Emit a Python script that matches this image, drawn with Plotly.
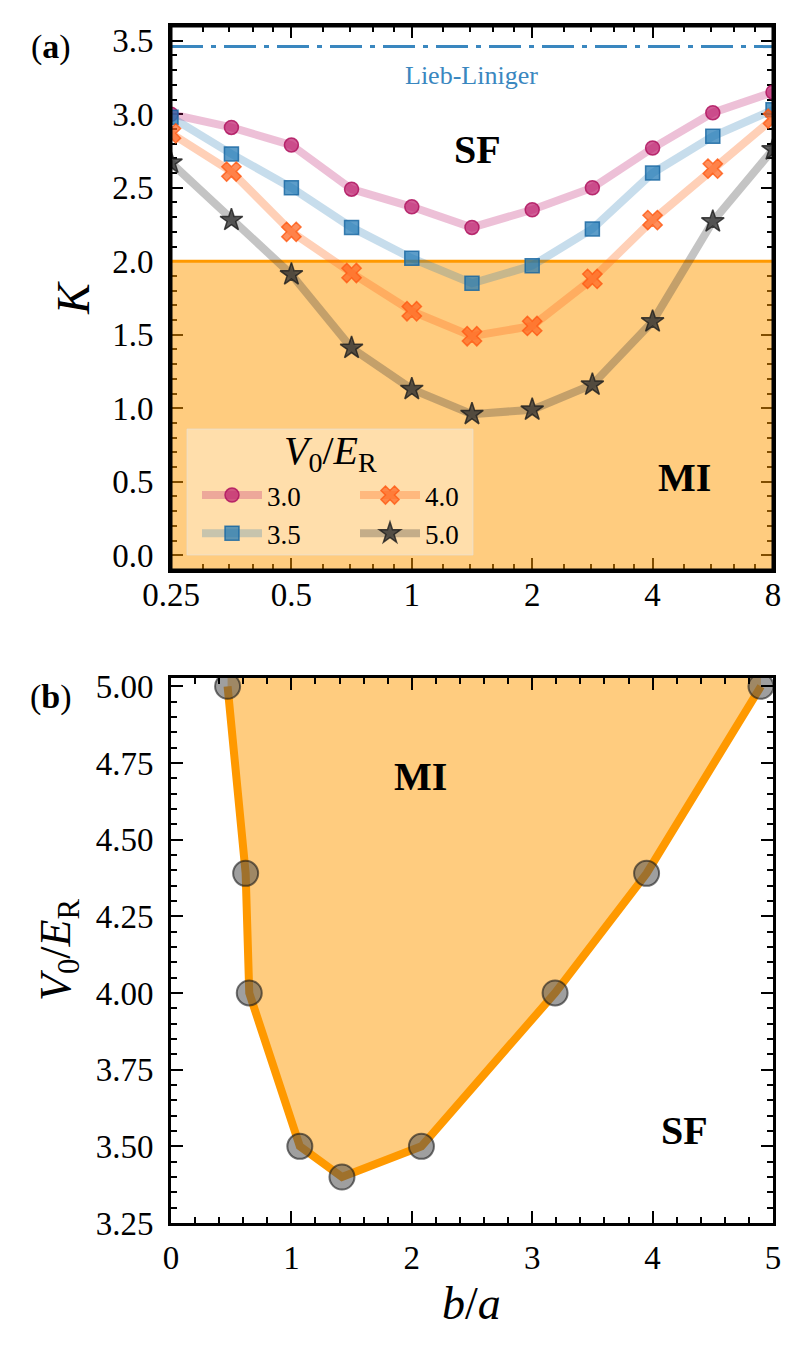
import math
import plotly.graph_objects as go

# ---------------- data ----------------
# panel (a): Luttinger parameter K vs b/a for several lattice depths
b_over_a_a = [0.25, 0.354, 0.5, 0.707, 1.0, 1.414, 2.0, 2.828, 4.0, 5.657, 8.0]
K_V30 = [3.00, 2.91, 2.79, 2.49, 2.37, 2.23, 2.35, 2.50, 2.77, 3.01, 3.15]
K_V35 = [2.98, 2.73, 2.50, 2.23, 2.02, 1.85, 1.97, 2.22, 2.60, 2.85, 3.03]
K_V40 = [2.87, 2.61, 2.20, 1.92, 1.66, 1.49, 1.56, 1.88, 2.28, 2.63, 2.97]
K_V50 = [2.67, 2.28, 1.91, 1.41, 1.13, 0.96, 0.99, 1.16, 1.59, 2.27, 2.76]
series_labels = ["3.0", "3.5", "4.0", "5.0"]
K_critical = 2.0
K_lieb_liniger = 3.46
xtick_vals_a = [0.25, 0.5, 1, 2, 4, 8]
xtick_text_a = ["0.25", "0.5", "1", "2", "4", "8"]

# panel (b): phase boundary
b_over_a_b = [0.47, 0.62, 0.65, 1.07, 1.42, 2.08, 3.19, 3.95, 4.90]
V0_boundary = [5.00, 4.39, 4.00, 3.50, 3.40, 3.50, 4.00, 4.39, 5.00]

# ---------------- style ----------------
# page body has an 8px margin, so the figure is made 16px smaller and
# all pixel positions are measured from the window corner
OFF = 8
W, H = 809 - 2 * OFF, 1351 - 2 * OFF
SERIF = "Liberation Serif"
YA_RANGE = [-0.1, 3.6]
XA_RANGE = [math.log10(0.25), math.log10(8)]
YB_RANGE = [3.25, 5.027]
XB_RANGE = [0, 5]


def px(x):
    return (x - OFF) / W


def py(y):
    return 1 - (y - OFF) / H


styles = [
    dict(symbol="circle", size=14, color="rgba(190,30,110,0.72)", edge="rgba(175,20,95,0.85)",
         line="rgba(190,30,110,0.28)"),
    dict(symbol="square", size=14, color="rgba(31,119,180,0.72)", edge="rgba(20,100,160,0.8)",
         line="rgba(31,119,180,0.25)"),
    dict(symbol="x", size=17, color="rgba(255,100,30,0.72)", edge="rgba(255,90,20,0.8)",
         line="rgba(255,110,30,0.32)"),
    dict(symbol="star", size=17, color="rgba(50,50,50,0.78)", edge="rgba(30,30,30,0.8)",
         line="rgba(60,60,60,0.3)"),
]
legend_of = ["legend", "legend", "legend2", "legend2"]

fig = go.Figure()

# MI region fill in (a)
xa_lo, xa_hi = b_over_a_a[0], b_over_a_a[-1]
fig.add_trace(go.Scatter(
    x=[xa_lo, xa_hi, xa_hi, xa_lo], y=[YA_RANGE[0], YA_RANGE[0], K_critical, K_critical],
    mode="none", fill="toself", fillcolor="rgba(255,153,0,0.5)",
    showlegend=False, hoverinfo="skip", xaxis="x", yaxis="y"))
fig.add_trace(go.Scatter(
    x=[xa_lo, xa_hi], y=[K_critical, K_critical], mode="lines",
    line=dict(color="#ff9900", width=3), showlegend=False, hoverinfo="skip",
    xaxis="x", yaxis="y"))
fig.add_trace(go.Scatter(
    x=[xa_lo, xa_hi], y=[K_lieb_liniger, K_lieb_liniger], mode="lines",
    line=dict(color="#3a87bf", width=3, dash="32px,8px,5px,8px"), showlegend=False,
    hoverinfo="skip", xaxis="x", yaxis="y"))

for lab, K, st, lg in zip(series_labels, [K_V30, K_V35, K_V40, K_V50], styles, legend_of):
    fig.add_trace(go.Scatter(
        x=b_over_a_a, y=K, name=lab, mode="lines+markers",
        line=dict(color=st["line"], width=8),
        marker=dict(symbol=st["symbol"], size=st["size"], color=st["color"],
                    line=dict(color=st["edge"], width=1.5)),
        legend=lg, xaxis="x", yaxis="y"))

# panel (b)
fig.add_trace(go.Scatter(
    x=b_over_a_b + [b_over_a_b[-1], b_over_a_b[0]],
    y=V0_boundary + [YB_RANGE[1], YB_RANGE[1]],
    mode="none", fill="toself", fillcolor="rgba(255,153,0,0.5)",
    showlegend=False, hoverinfo="skip", xaxis="x2", yaxis="y2"))
fig.add_trace(go.Scatter(
    x=b_over_a_b, y=V0_boundary, mode="lines+markers",
    line=dict(color="#ff9900", width=8),
    marker=dict(symbol="circle", size=25, color="rgba(80,80,80,0.55)",
                line=dict(color="rgba(25,25,25,0.6)", width=2)),
    showlegend=False, xaxis="x2", yaxis="y2"))

tickfont = dict(family=SERIF, size=33, color="black")
common = dict(ticks="inside", ticklen=12, tickwidth=2, tickcolor="black",
              showline=True, linecolor="black", linewidth=3, mirror="allticks",
              showgrid=False, zeroline=False, tickfont=tickfont, automargin=False)
minor_common = dict(ticks="inside", ticklen=6, tickwidth=1.5, tickcolor="black", showgrid=False)

octaves = [0.25, 0.5, 1, 2, 4]
minor_a = [o * f for o in octaves for f in (1.2, 1.4, 1.6, 1.8)]

legend_font = dict(family=SERIF, size=27, color="black")
fig.update_layout(
    width=W, height=H, margin=dict(l=0, r=0, t=0, b=0, autoexpand=False),
    paper_bgcolor="white", plot_bgcolor="white",
    font=dict(family=SERIF, color="black"),
    xaxis=dict(domain=[px(171), px(773)], anchor="y", type="log", range=XA_RANGE,
               tickvals=xtick_vals_a, ticktext=xtick_text_a, layer="below traces",
               ticklabelstandoff=-7,
               minor=dict(tickvals=minor_a, **minor_common), **common),
    yaxis=dict(domain=[py(570), py(26)], anchor="x", range=YA_RANGE, dtick=0.5,
               tick0=0, tickformat=".1f", layer="below traces", ticklabelstandoff=8,
               minor=dict(dtick=0.1, tick0=0, **minor_common), **common),
    xaxis2=dict(domain=[px(171), px(773)], anchor="y2", range=XB_RANGE, dtick=1, tick0=0,
                ticklabelstandoff=3,
                minor=dict(dtick=0.2, tick0=0, **minor_common), **common),
    yaxis2=dict(domain=[py(1223), py(678)], anchor="x2", range=YB_RANGE, dtick=0.25,
                tick0=3.25, tickformat=".2f", ticklabelstandoff=8,
                minor=dict(dtick=0.05, tick0=3.25, **minor_common), **common),
    legend=dict(x=px(197), y=py(471), xanchor="left", yanchor="top",
                bgcolor="rgba(0,0,0,0)", font=legend_font,
                itemwidth=60, tracegroupgap=0),
    legend2=dict(x=px(355), y=py(471), xanchor="left", yanchor="top",
                 bgcolor="rgba(0,0,0,0)", font=legend_font,
                 itemwidth=60, tracegroupgap=0),
)

shapes = [
    dict(type="rect", xref="paper", yref="paper", x0=px(187), x1=px(473), y0=py(555), y1=py(429),
         fillcolor="rgba(255,255,255,0.35)", line=dict(color="rgba(225,225,225,0.6)", width=1),
         layer="above"),
    dict(type="rect", xref="x domain", yref="y domain", x0=0, x1=1, y0=0, y1=1,
         line=dict(color="black", width=3), layer="above"),
]
fig.update_layout(shapes=shapes)


def ann(text, x, y, size, angle=0, color="black"):
    fig.add_annotation(text=text, xref="paper", yref="paper", x=px(x), y=py(y),
                       xanchor="center", yanchor="middle", showarrow=False, textangle=angle,
                       font=dict(family=SERIF, size=size, color=color))


ann("(<b>a</b>)", 51, 47, 34)
ann("(<b>b</b>)", 51, 697, 34)
ann("<i>K</i>", 74, 298, 46, angle=-90)
ann("<i>V</i><sub>0</sub>/<i>E</i><sub>R</sub>", 58, 950, 44, angle=-90)
ann("<i>b</i>/<i>a</i>", 472, 1303, 46)
ann("Lieb-Liniger", 472, 75, 26, color="#3a87bf")
ann("<b>SF</b>", 478, 150, 40)
ann("<b>MI</b>", 684, 478, 40)
ann("<b>MI</b>", 420, 776, 40)
ann("<b>SF</b>", 684, 1130, 40)
ann("<i>V</i><sub>0</sub>/<i>E</i><sub>R</sub>", 330, 453, 40)

fig.write_html("out.html")
